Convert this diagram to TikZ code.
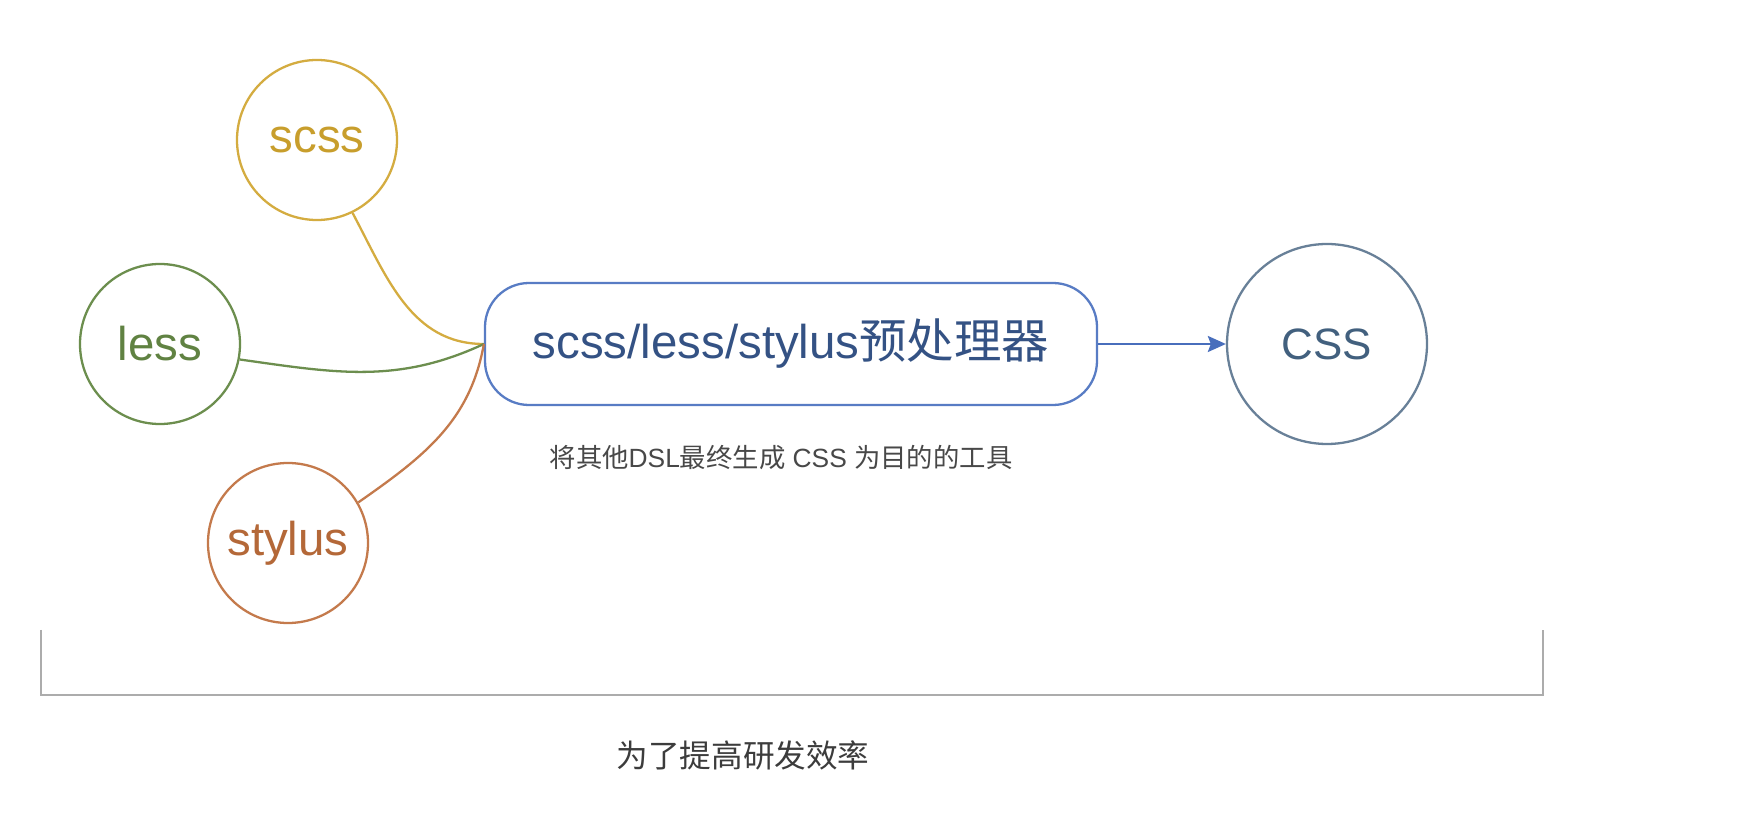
\documentclass[tikz,border=0pt]{standalone}
\usepackage{fontspec}
\setmainfont{Liberation Sans}
\newfontfamily\cjk{Noto Sans CJK SC}
\usetikzlibrary{arrows.meta}
\definecolor{scsscol}{RGB}{212,172,64}
\definecolor{scsstxt}{RGB}{200,158,44}
\definecolor{lesscol}{RGB}{108,142,78}
\definecolor{lesstxt}{RGB}{96,130,66}
\definecolor{styluscol}{RGB}{196,122,76}
\definecolor{stylustxt}{RGB}{180,104,56}
\definecolor{boxblue}{RGB}{88,124,196}
\definecolor{boxtxt}{RGB}{52,82,132}
\definecolor{csscol}{RGB}{104,128,152}
\definecolor{csstxt}{RGB}{66,96,126}
\definecolor{arrowcol}{RGB}{72,110,188}
\definecolor{bracketcol}{RGB}{172,172,172}
\definecolor{subtxt}{RGB}{72,72,72}
\definecolor{bottxt}{RGB}{60,60,60}
\begin{document}
\begin{tikzpicture}[x=0.02cm,y=-0.02cm,
  srcnode/.style={circle,draw,line width=1.3pt,minimum size=160*0.02cm,inner sep=0pt,font=\fontsize{27}{30}\selectfont},
  conn/.style={line width=1.3pt},
  mainbox/.style={draw=boxblue,line width=1.3pt,rounded corners=44*0.02cm,minimum width=612*0.02cm,minimum height=122*0.02cm,inner sep=0pt,text=boxtxt,font=\fontsize{27}{30}\selectfont},
  bracketline/.style={draw=bracketcol,line width=1.4pt}
]
\useasboundingbox (0,0) rectangle (1738,830);
\fill[white] (0,0) rectangle (1738,830);

\node[srcnode,draw=scsscol,text=scsstxt] (scss) at (317,140) {scss};
\node[srcnode,draw=lesscol,text=lesstxt] (less) at (160,344) {less};
\node[srcnode,draw=styluscol,text=stylustxt] (stylus) at (288,543) {stylus};
\node[mainbox] (box) at (791,344) {scss/less/stylus{\cjk 预处理器}};
\node[srcnode,draw=csscol,text=csstxt,minimum size=200*0.02cm,font=\fontsize{25}{28}\selectfont] (css) at (1327,344) {CSS};

\node[text=subtxt,font=\fontsize{15}{17}\selectfont] (sub) at (781,458) {{\cjk 将其他}DSL{\cjk 最终生成} CSS {\cjk 为目的的工具}};

\draw[conn,draw=scsscol] (scss.-64) to[out=-62,in=180] (box.west);
\draw[conn,draw=lesscol] (less.-11) to[out=-8,in=205] (box.west);
\draw[conn,draw=styluscol] (stylus.30) to[out=35,in=-100] (box.west);
\draw[conn,draw=arrowcol,-{Stealth[length=18*0.02cm,width=16*0.02cm,inset=3*0.02cm]}] (box.east) -- (css.west);

\coordinate (bl) at (41,630);
\coordinate (br) at (1543,630);
\draw[bracketline] (bl) -- (41,695) -- (1543,695) -- (br);

\node[text=bottxt,font=\fontsize{18}{20}\selectfont\cjk] (goal) at (743,755) {为了提高研发效率};
\end{tikzpicture}
\end{document}
